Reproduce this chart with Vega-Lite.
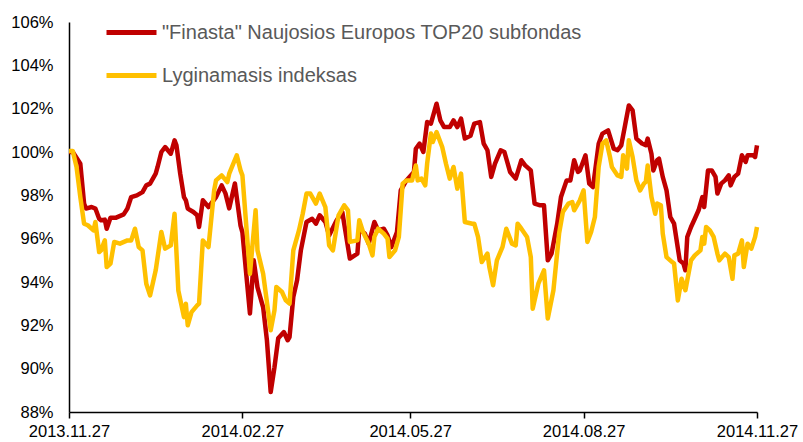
{
  "$schema": "https://vega.github.io/schema/vega-lite/v6.json",
  "width": 688,
  "height": 390,
  "autosize": {"type": "none"},
  "padding": {"left": 69, "top": 22, "right": 46, "bottom": 30},
  "background": "white",
  "config": {"view": {"stroke": null}, "font": "Liberation Sans"},
  "datasets": {
    "fund": [
      {"date": "2013-11-27", "value": 100.0}, {"date": "2013-11-29", "value": 100.0}, {"date": "2013-12-02", "value": 99.6}, {"date": "2013-12-03", "value": 99.46},
      {"date": "2013-12-05", "value": 97.62}, {"date": "2013-12-06", "value": 97.39}, {"date": "2013-12-09", "value": 97.46}, {"date": "2013-12-11", "value": 97.39},
      {"date": "2013-12-13", "value": 96.92}, {"date": "2013-12-14", "value": 96.85}, {"date": "2013-12-16", "value": 96.88}, {"date": "2013-12-17", "value": 96.46},
      {"date": "2013-12-19", "value": 96.97}, {"date": "2013-12-22", "value": 96.97}, {"date": "2013-12-26", "value": 97.12}, {"date": "2013-12-28", "value": 97.39},
      {"date": "2013-12-30", "value": 97.92}, {"date": "2014-01-02", "value": 98.0}, {"date": "2014-01-05", "value": 98.15}, {"date": "2014-01-07", "value": 98.46},
      {"date": "2014-01-09", "value": 98.54}, {"date": "2014-01-12", "value": 99.0}, {"date": "2014-01-13", "value": 99.31}, {"date": "2014-01-15", "value": 100.0},
      {"date": "2014-01-17", "value": 100.23}, {"date": "2014-01-20", "value": 99.92}, {"date": "2014-01-22", "value": 100.54}, {"date": "2014-01-23", "value": 100.31},
      {"date": "2014-01-25", "value": 99.0}, {"date": "2014-01-27", "value": 97.92}, {"date": "2014-01-28", "value": 97.77}, {"date": "2014-01-29", "value": 97.39},
      {"date": "2014-02-01", "value": 97.23}, {"date": "2014-02-03", "value": 97.08}, {"date": "2014-02-04", "value": 96.54}, {"date": "2014-02-06", "value": 97.77},
      {"date": "2014-02-09", "value": 97.46}, {"date": "2014-02-13", "value": 97.92}, {"date": "2014-02-16", "value": 98.46}, {"date": "2014-02-18", "value": 98.09},
      {"date": "2014-02-20", "value": 97.4}, {"date": "2014-02-23", "value": 98.55}, {"date": "2014-02-26", "value": 96.6}, {"date": "2014-02-27", "value": 96.29},
      {"date": "2014-03-01", "value": 94.4}, {"date": "2014-03-03", "value": 92.55}, {"date": "2014-03-05", "value": 95.0}, {"date": "2014-03-07", "value": 93.75},
      {"date": "2014-03-10", "value": 92.83}, {"date": "2014-03-12", "value": 91.31}, {"date": "2014-03-14", "value": 88.92}, {"date": "2014-03-16", "value": 90.06},
      {"date": "2014-03-18", "value": 91.4}, {"date": "2014-03-21", "value": 91.69}, {"date": "2014-03-23", "value": 91.31}, {"date": "2014-03-24", "value": 91.46},
      {"date": "2014-03-26", "value": 93.31}, {"date": "2014-03-28", "value": 94.08}, {"date": "2014-03-30", "value": 95.46}, {"date": "2014-04-02", "value": 96.77},
      {"date": "2014-04-05", "value": 96.92}, {"date": "2014-04-07", "value": 96.69}, {"date": "2014-04-09", "value": 97.08}, {"date": "2014-04-12", "value": 96.77},
      {"date": "2014-04-14", "value": 96.15}, {"date": "2014-04-18", "value": 96.85}, {"date": "2014-04-21", "value": 97.23}, {"date": "2014-04-25", "value": 95.08},
      {"date": "2014-04-29", "value": 95.31}, {"date": "2014-04-30", "value": 96.46}, {"date": "2014-05-03", "value": 96.23}, {"date": "2014-05-05", "value": 95.77},
      {"date": "2014-05-08", "value": 96.77}, {"date": "2014-05-10", "value": 96.38}, {"date": "2014-05-13", "value": 96.46}, {"date": "2014-05-15", "value": 96.15},
      {"date": "2014-05-17", "value": 95.61}, {"date": "2014-05-20", "value": 96.31}, {"date": "2014-05-22", "value": 98.23}, {"date": "2014-05-25", "value": 98.69},
      {"date": "2014-05-29", "value": 99.08}, {"date": "2014-05-30", "value": 100.15}, {"date": "2014-06-01", "value": 100.39}, {"date": "2014-06-03", "value": 100.0},
      {"date": "2014-06-05", "value": 101.38}, {"date": "2014-06-07", "value": 101.31}, {"date": "2014-06-10", "value": 102.23}, {"date": "2014-06-12", "value": 101.46},
      {"date": "2014-06-14", "value": 101.15}, {"date": "2014-06-17", "value": 101.15}, {"date": "2014-06-19", "value": 101.46}, {"date": "2014-06-21", "value": 101.15},
      {"date": "2014-06-23", "value": 101.54}, {"date": "2014-06-25", "value": 100.62}, {"date": "2014-06-28", "value": 100.75}, {"date": "2014-06-30", "value": 101.31},
      {"date": "2014-07-03", "value": 101.38}, {"date": "2014-07-05", "value": 100.39}, {"date": "2014-07-07", "value": 100.08}, {"date": "2014-07-09", "value": 98.85},
      {"date": "2014-07-11", "value": 99.46}, {"date": "2014-07-14", "value": 100.08}, {"date": "2014-07-16", "value": 100.0}, {"date": "2014-07-19", "value": 99.08},
      {"date": "2014-07-22", "value": 98.77}, {"date": "2014-07-25", "value": 99.62}, {"date": "2014-07-27", "value": 99.38}, {"date": "2014-07-30", "value": 99.15},
      {"date": "2014-08-01", "value": 97.62}, {"date": "2014-08-04", "value": 97.54}, {"date": "2014-08-06", "value": 97.54}, {"date": "2014-08-08", "value": 95.0},
      {"date": "2014-08-10", "value": 95.31}, {"date": "2014-08-13", "value": 96.69}, {"date": "2014-08-15", "value": 97.92}, {"date": "2014-08-18", "value": 98.69},
      {"date": "2014-08-20", "value": 98.69}, {"date": "2014-08-22", "value": 99.62}, {"date": "2014-08-24", "value": 99.08}, {"date": "2014-08-25", "value": 99.15},
      {"date": "2014-08-28", "value": 99.85}, {"date": "2014-08-30", "value": 98.54}, {"date": "2014-09-01", "value": 98.38}, {"date": "2014-09-04", "value": 100.38},
      {"date": "2014-09-06", "value": 100.85}, {"date": "2014-09-09", "value": 101.0}, {"date": "2014-09-12", "value": 100.15}, {"date": "2014-09-14", "value": 100.08},
      {"date": "2014-09-16", "value": 100.31}, {"date": "2014-09-18", "value": 101.23}, {"date": "2014-09-20", "value": 102.15}, {"date": "2014-09-22", "value": 101.92},
      {"date": "2014-09-24", "value": 100.62}, {"date": "2014-09-27", "value": 100.39}, {"date": "2014-09-29", "value": 100.31}, {"date": "2014-09-30", "value": 100.62},
      {"date": "2014-10-02", "value": 99.92}, {"date": "2014-10-03", "value": 99.15}, {"date": "2014-10-05", "value": 99.62}, {"date": "2014-10-06", "value": 99.69},
      {"date": "2014-10-08", "value": 98.85}, {"date": "2014-10-10", "value": 98.23}, {"date": "2014-10-12", "value": 97.0}, {"date": "2014-10-14", "value": 96.69},
      {"date": "2014-10-17", "value": 95.0}, {"date": "2014-10-19", "value": 94.85}, {"date": "2014-10-20", "value": 94.54}, {"date": "2014-10-21", "value": 96.08},
      {"date": "2014-10-23", "value": 96.54}, {"date": "2014-10-25", "value": 96.92}, {"date": "2014-10-27", "value": 97.31}, {"date": "2014-10-29", "value": 97.92},
      {"date": "2014-10-30", "value": 97.46}, {"date": "2014-11-01", "value": 99.15}, {"date": "2014-11-03", "value": 99.15}, {"date": "2014-11-05", "value": 98.85},
      {"date": "2014-11-06", "value": 98.08}, {"date": "2014-11-08", "value": 98.54}, {"date": "2014-11-10", "value": 98.69}, {"date": "2014-11-12", "value": 98.92},
      {"date": "2014-11-13", "value": 98.46}, {"date": "2014-11-15", "value": 98.85}, {"date": "2014-11-17", "value": 99.0}, {"date": "2014-11-19", "value": 99.85},
      {"date": "2014-11-21", "value": 99.54}, {"date": "2014-11-22", "value": 99.85}, {"date": "2014-11-25", "value": 99.85}, {"date": "2014-11-26", "value": 99.77},
      {"date": "2014-11-27", "value": 100.31}
    ],
    "index": [
      {"date": "2013-11-27", "value": 100.05}, {"date": "2013-11-29", "value": 100.05}, {"date": "2013-12-01", "value": 99.31}, {"date": "2013-12-03", "value": 97.92},
      {"date": "2013-12-05", "value": 96.69}, {"date": "2013-12-07", "value": 96.62}, {"date": "2013-12-10", "value": 96.38}, {"date": "2013-12-11", "value": 96.77},
      {"date": "2013-12-13", "value": 95.38}, {"date": "2013-12-14", "value": 95.46}, {"date": "2013-12-16", "value": 95.92}, {"date": "2013-12-17", "value": 94.69},
      {"date": "2013-12-19", "value": 94.85}, {"date": "2013-12-21", "value": 95.85}, {"date": "2013-12-24", "value": 95.77}, {"date": "2013-12-28", "value": 95.92},
      {"date": "2013-12-30", "value": 95.92}, {"date": "2014-01-01", "value": 96.46}, {"date": "2014-01-03", "value": 95.61}, {"date": "2014-01-05", "value": 95.46},
      {"date": "2014-01-07", "value": 93.92}, {"date": "2014-01-09", "value": 93.38}, {"date": "2014-01-12", "value": 94.54}, {"date": "2014-01-15", "value": 96.31},
      {"date": "2014-01-17", "value": 95.54}, {"date": "2014-01-20", "value": 95.69}, {"date": "2014-01-22", "value": 97.15}, {"date": "2014-01-24", "value": 93.61},
      {"date": "2014-01-27", "value": 92.38}, {"date": "2014-01-28", "value": 93.0}, {"date": "2014-01-29", "value": 92.0}, {"date": "2014-01-31", "value": 92.61},
      {"date": "2014-02-03", "value": 92.92}, {"date": "2014-02-04", "value": 93.0}, {"date": "2014-02-06", "value": 95.92}, {"date": "2014-02-09", "value": 95.61},
      {"date": "2014-02-12", "value": 98.23}, {"date": "2014-02-13", "value": 98.69}, {"date": "2014-02-16", "value": 98.92}, {"date": "2014-02-19", "value": 98.61},
      {"date": "2014-02-20", "value": 99.0}, {"date": "2014-02-24", "value": 99.85}, {"date": "2014-02-26", "value": 99.15}, {"date": "2014-02-27", "value": 98.92},
      {"date": "2014-03-03", "value": 94.38}, {"date": "2014-03-06", "value": 97.31}, {"date": "2014-03-07", "value": 95.46}, {"date": "2014-03-10", "value": 94.38},
      {"date": "2014-03-14", "value": 91.77}, {"date": "2014-03-16", "value": 92.69}, {"date": "2014-03-17", "value": 93.77}, {"date": "2014-03-20", "value": 93.54},
      {"date": "2014-03-22", "value": 93.15}, {"date": "2014-03-24", "value": 93.0}, {"date": "2014-03-26", "value": 95.46}, {"date": "2014-03-29", "value": 96.38},
      {"date": "2014-03-31", "value": 97.15}, {"date": "2014-04-02", "value": 98.08}, {"date": "2014-04-04", "value": 98.08}, {"date": "2014-04-07", "value": 97.62},
      {"date": "2014-04-09", "value": 98.08}, {"date": "2014-04-12", "value": 97.46}, {"date": "2014-04-14", "value": 95.69}, {"date": "2014-04-16", "value": 95.46},
      {"date": "2014-04-19", "value": 97.08}, {"date": "2014-04-22", "value": 97.54}, {"date": "2014-04-24", "value": 97.31}, {"date": "2014-04-25", "value": 95.85},
      {"date": "2014-04-29", "value": 95.92}, {"date": "2014-04-30", "value": 96.85}, {"date": "2014-05-02", "value": 96.31}, {"date": "2014-05-05", "value": 95.77},
      {"date": "2014-05-07", "value": 95.23}, {"date": "2014-05-08", "value": 96.08}, {"date": "2014-05-10", "value": 96.46}, {"date": "2014-05-13", "value": 96.23},
      {"date": "2014-05-15", "value": 96.0}, {"date": "2014-05-16", "value": 95.15}, {"date": "2014-05-19", "value": 95.46}, {"date": "2014-05-21", "value": 96.08},
      {"date": "2014-05-23", "value": 98.54}, {"date": "2014-05-25", "value": 98.69}, {"date": "2014-05-28", "value": 98.69}, {"date": "2014-05-30", "value": 99.38},
      {"date": "2014-05-31", "value": 98.69}, {"date": "2014-06-02", "value": 98.77}, {"date": "2014-06-04", "value": 98.46}, {"date": "2014-06-05", "value": 99.46},
      {"date": "2014-06-07", "value": 100.85}, {"date": "2014-06-08", "value": 100.46}, {"date": "2014-06-10", "value": 100.92}, {"date": "2014-06-13", "value": 100.23},
      {"date": "2014-06-15", "value": 99.46}, {"date": "2014-06-17", "value": 98.77}, {"date": "2014-06-19", "value": 99.31}, {"date": "2014-06-21", "value": 98.31},
      {"date": "2014-06-23", "value": 99.0}, {"date": "2014-06-25", "value": 96.77}, {"date": "2014-06-29", "value": 96.69}, {"date": "2014-06-30", "value": 96.69},
      {"date": "2014-07-02", "value": 96.08}, {"date": "2014-07-04", "value": 94.92}, {"date": "2014-07-07", "value": 95.31}, {"date": "2014-07-08", "value": 94.69},
      {"date": "2014-07-10", "value": 93.85}, {"date": "2014-07-12", "value": 95.0}, {"date": "2014-07-15", "value": 95.62}, {"date": "2014-07-17", "value": 96.46},
      {"date": "2014-07-20", "value": 95.77}, {"date": "2014-07-22", "value": 95.69}, {"date": "2014-07-23", "value": 96.69}, {"date": "2014-07-25", "value": 96.46},
      {"date": "2014-07-28", "value": 96.08}, {"date": "2014-07-30", "value": 95.15}, {"date": "2014-07-31", "value": 92.77}, {"date": "2014-08-03", "value": 93.92},
      {"date": "2014-08-06", "value": 94.54}, {"date": "2014-08-08", "value": 92.31}, {"date": "2014-08-11", "value": 93.62}, {"date": "2014-08-14", "value": 96.23},
      {"date": "2014-08-16", "value": 97.23}, {"date": "2014-08-19", "value": 97.62}, {"date": "2014-08-21", "value": 97.69}, {"date": "2014-08-22", "value": 97.31},
      {"date": "2014-08-25", "value": 97.77}, {"date": "2014-08-27", "value": 98.23}, {"date": "2014-08-29", "value": 95.85}, {"date": "2014-08-31", "value": 96.31},
      {"date": "2014-09-02", "value": 97.0}, {"date": "2014-09-04", "value": 99.31}, {"date": "2014-09-06", "value": 100.38}, {"date": "2014-09-08", "value": 100.54},
      {"date": "2014-09-10", "value": 99.77}, {"date": "2014-09-11", "value": 99.31}, {"date": "2014-09-14", "value": 98.92}, {"date": "2014-09-16", "value": 98.85},
      {"date": "2014-09-17", "value": 99.85}, {"date": "2014-09-19", "value": 99.23}, {"date": "2014-09-20", "value": 100.54}, {"date": "2014-09-22", "value": 99.77},
      {"date": "2014-09-24", "value": 98.69}, {"date": "2014-09-26", "value": 98.23}, {"date": "2014-09-28", "value": 98.54}, {"date": "2014-09-29", "value": 98.62},
      {"date": "2014-09-30", "value": 99.38}, {"date": "2014-10-02", "value": 97.92}, {"date": "2014-10-04", "value": 97.15}, {"date": "2014-10-05", "value": 97.62},
      {"date": "2014-10-07", "value": 97.54}, {"date": "2014-10-08", "value": 96.23}, {"date": "2014-10-10", "value": 95.15}, {"date": "2014-10-13", "value": 94.92},
      {"date": "2014-10-14", "value": 94.85}, {"date": "2014-10-16", "value": 93.15}, {"date": "2014-10-18", "value": 94.15}, {"date": "2014-10-20", "value": 93.62},
      {"date": "2014-10-23", "value": 95.0}, {"date": "2014-10-25", "value": 95.23}, {"date": "2014-10-28", "value": 95.46}, {"date": "2014-10-29", "value": 96.08},
      {"date": "2014-10-30", "value": 95.77}, {"date": "2014-10-31", "value": 96.54}, {"date": "2014-11-02", "value": 96.38}, {"date": "2014-11-04", "value": 96.08},
      {"date": "2014-11-06", "value": 95.31}, {"date": "2014-11-07", "value": 95.0}, {"date": "2014-11-10", "value": 95.31}, {"date": "2014-11-12", "value": 95.15},
      {"date": "2014-11-14", "value": 94.15}, {"date": "2014-11-15", "value": 95.23}, {"date": "2014-11-17", "value": 95.31}, {"date": "2014-11-19", "value": 95.92},
      {"date": "2014-11-20", "value": 94.69}, {"date": "2014-11-22", "value": 95.77}, {"date": "2014-11-24", "value": 95.54}, {"date": "2014-11-26", "value": 96.08},
      {"date": "2014-11-27", "value": 96.54}
    ]
  },
  "encoding": {
    "x": {
      "field": "date",
      "type": "temporal",
      "scale": {
        "type": "utc",
        "domain": [
          {"year": 2013, "month": 11, "date": 27, "utc": true},
          {"year": 2014, "month": 11, "date": 27, "utc": true}
        ]
      },
      "axis": {
        "title": null,
        "grid": false,
        "values": [
          {"year": 2013, "month": 11, "date": 27, "utc": true},
          {"year": 2014, "month": 2, "date": 27, "utc": true},
          {"year": 2014, "month": 5, "date": 27, "utc": true},
          {"year": 2014, "month": 8, "date": 27, "utc": true},
          {"year": 2014, "month": 11, "date": 27, "utc": true}
        ],
        "labelExpr": "utcFormat(datum.value, '%Y.%m.%d')",
        "domainColor": "#000000",
        "domainWidth": 1.5,
        "tickColor": "#000000",
        "tickWidth": 1.5,
        "tickSize": 6,
        "labelFont": "Liberation Sans",
        "labelFontSize": 16.5,
        "labelColor": "#000000",
        "labelPadding": 5,
        "labelOverlap": false,
        "labelBound": false,
        "labelFlush": false
      }
    },
    "y": {
      "field": "value",
      "type": "quantitative",
      "scale": {"domain": [88, 106], "nice": false, "zero": false},
      "axis": {
        "title": null,
        "grid": false,
        "values": [88, 90, 92, 94, 96, 98, 100, 102, 104, 106],
        "labelExpr": "datum.value + '%'",
        "ticks": false,
        "tickSize": 0,
        "domainColor": "#000000",
        "domainWidth": 1.5,
        "labelFont": "Liberation Sans",
        "labelFontSize": 16.5,
        "labelColor": "#000000",
        "labelPadding": 16
      }
    }
  },
  "layer": [
    {
      "data": {"name": "fund"},
      "mark": {"type": "line", "strokeWidth": 4.5, "strokeJoin": "round"},
      "encoding": {
        "color": {
          "datum": "\"Finasta\" Naujosios Europos TOP20 subfondas",
          "type": "nominal",
          "scale": {
            "domain": ["\"Finasta\" Naujosios Europos TOP20 subfondas", "Lyginamasis indeksas"],
            "range": ["#C00000", "#FFC000"]
          },
          "legend": {
            "title": null,
            "orient": "none",
            "legendX": 35,
            "legendY": -11,
            "padding": 0,
            "symbolType": "stroke",
            "symbolSize": 2500,
            "symbolStrokeWidth": 5,
            "clipHeight": 43,
            "rowPadding": 0,
            "labelOffset": 3,
            "labelFont": "Liberation Sans",
            "labelFontSize": 20,
            "labelColor": "#595959",
            "labelLimit": 600
          }
        }
      }
    },
    {
      "data": {"name": "index"},
      "mark": {"type": "line", "strokeWidth": 4.5, "strokeJoin": "round"},
      "encoding": {
        "color": {"datum": "Lyginamasis indeksas", "type": "nominal"}
      }
    }
  ]
}
